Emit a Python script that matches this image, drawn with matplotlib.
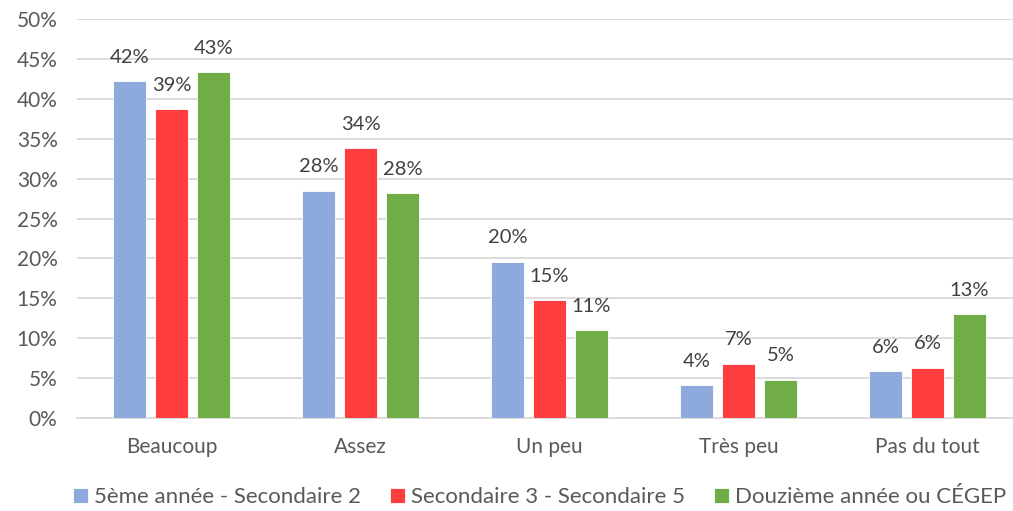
import matplotlib
matplotlib.use("Agg")
import matplotlib.pyplot as plt
import numpy as np

categories = ["Beaucoup", "Assez", "Un peu", "Très peu", "Pas du tout"]
series_names = ["5ème année - Secondaire 2", "Secondaire 3 - Secondaire 5", "Douzième année ou CÉGEP"]
blue_vals = [42.2, 28.5, 19.6, 4.1, 5.9]
red_vals = [38.7, 33.8, 14.8, 6.8, 6.3]
green_vals = [43.3, 28.2, 11.0, 4.8, 13.0]
labels_blue = ["42%", "28%", "20%", "4%", "6%"]
labels_red = ["39%", "34%", "15%", "7%", "6%"]
labels_green = ["43%", "28%", "11%", "5%", "13%"]
yticks = [0, 5, 10, 15, 20, 25, 30, 35, 40, 45, 50]

colors = ["#8EA9DB", "#FF3F3F", "#70AD47"]
plt.rcParams['font.family'] = ['Lato', 'DejaVu Sans']

W, H = 1013, 511
fig = plt.figure(figsize=(W/100, H/100), dpi=100)
ax = fig.add_axes([77/W, (H-418)/H, (W-77)/W, (418-19)/H])

x = np.arange(len(categories))
bw = 0.175
off = 0.222
all_vals = [blue_vals, red_vals, green_vals]
all_labels = [labels_blue, labels_red, labels_green]
for i, (vals, labs) in enumerate(zip(all_vals, all_labels)):
    pos = x + (i - 1) * off
    ax.bar(pos, vals, width=bw, color=colors[i], label=series_names[i],
           edgecolor="white", linewidth=0.6, zorder=3)
    for p, v, t in zip(pos, vals, labs):
        ax.annotate(t, (p, v), xytext=(0, 11), textcoords="offset points",
                    ha="center", va="bottom", fontsize=14.5, color="#404040")

ax.set_xlim(-0.5, -0.5 + (W - 77) / 189)
ax.set_ylim(0, 50)
ax.set_yticks(yticks)
ax.set_yticklabels([f"{t}%" for t in yticks])
ax.set_xticks(x)
ax.set_xticklabels(categories)
ax.yaxis.grid(True, color="#D9D9D9", linewidth=1.3, zorder=0)
ax.set_axisbelow(True)
for s in ["top", "right", "left"]:
    ax.spines[s].set_visible(False)
ax.spines["bottom"].set_color("#D9D9D9")
ax.spines["bottom"].set_linewidth(1.3)
ax.tick_params(axis="both", length=0, labelsize=15, colors="#595959")
ax.tick_params(axis="x", pad=14)
ax.tick_params(axis="y", pad=14)

fig.legend(loc="center", bbox_to_anchor=(540/W, 1 - 497/H), ncol=3, frameon=False,
           fontsize=16, labelcolor="#595959", handlelength=0.65, handleheight=0.65,
           handletextpad=0.3, columnspacing=1.3)

fig.savefig("out.png", dpi=100)
